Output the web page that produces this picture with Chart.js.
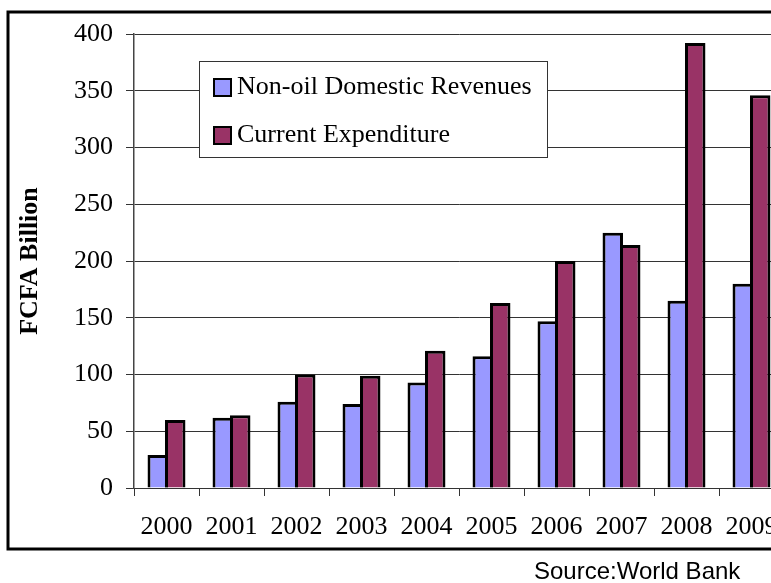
<!DOCTYPE html>
<html>
<head>
<meta charset="utf-8">
<script src="https://cdn.jsdelivr.net/npm/chart.js@4/dist/chart.umd.min.js"></script>
<style>
  html, body { margin: 0; padding: 0; background: #fff; overflow: hidden; }
  #wrap { width: 771px; height: 583px; overflow: hidden; position: relative; }
  canvas { display: block; }
</style>
</head>
<body>
<div id="wrap"><canvas id="c" width="800" height="583"></canvas></div>
<script>
// Categories and series (FCFA billion)
const years = ['2000', '2001', '2002', '2003', '2004', '2005', '2006', '2007', '2008', '2009'];
const nonOilRevenues = [29, 62, 76, 74, 93, 116, 147, 225, 165, 180];
const currentExpenditure = [60, 64, 100, 99, 121, 163, 200, 214, 392, 346];
const seriesNames = ['Non-oil Domestic Revenues', 'Current Expenditure'];
const yMin = 0, yMax = 400, yStep = 50;
const axisTitle = 'FCFA Billion';
const sourceNote = 'Source:World Bank';

const SERIF = "'Liberation Serif', 'Times New Roman', serif";
const SANS = "'Liberation Sans', Arial, sans-serif";
const BLUE = '#9999FF';
const MAROON = '#993366';

// Paired bars overlap by one outline so the shared edge reads as a single line
const BAR_BORDER = 3;
const CAT_PCT = 0.538;
const BAR_PCT = 1.171;

// White page with a heavy black frame around the chart
const framePlugin = {
  id: 'frame',
  beforeDraw(chart) {
    const ctx = chart.ctx;
    ctx.save();
    ctx.fillStyle = '#fff';
    ctx.fillRect(0, 0, chart.width, chart.height);
    ctx.strokeStyle = '#000';
    ctx.lineWidth = 3;
    ctx.strokeRect(8, 12, chart.width + 20, 537);
    ctx.restore();
  }
};

// Boxed legend sitting inside the plot area
const boxLegendPlugin = {
  id: 'boxLegend',
  afterDraw(chart) {
    const ctx = chart.ctx;
    ctx.save();
    ctx.fillStyle = '#fff';
    ctx.fillRect(199, 61, 349, 97);
    ctx.strokeStyle = '#333';
    ctx.lineWidth = 1;
    ctx.strokeRect(199.5, 61.5, 348, 96);
    ctx.font = '26px ' + SERIF;
    ctx.textBaseline = 'middle';
    ctx.textAlign = 'left';
    chart.data.datasets.forEach((ds, i) => {
      const cy = 87 + i * 48;
      ctx.fillStyle = ds.backgroundColor;
      ctx.fillRect(214, cy - 8, 17, 17);
      ctx.strokeStyle = '#000';
      ctx.lineWidth = 2;
      ctx.strokeRect(214, cy - 8, 17, 17);
      ctx.fillStyle = '#000';
      ctx.fillText(ds.label, 237, cy);
    });
    ctx.restore();
  }
};

// Source line under the frame
const sourcePlugin = {
  id: 'sourceNote',
  afterDraw(chart) {
    const ctx = chart.ctx;
    ctx.save();
    ctx.font = '24px ' + SANS;
    ctx.fillStyle = '#000';
    ctx.textAlign = 'left';
    ctx.textBaseline = 'alphabetic';
    ctx.fillText(sourceNote, 534, 579);
    ctx.restore();
  }
};

const chart = new Chart(document.getElementById('c'), {
  type: 'bar',
  data: {
    labels: years,
    datasets: [
      {
        label: seriesNames[0],
        data: nonOilRevenues,
        backgroundColor: BLUE,
        borderColor: '#000',
        borderWidth: BAR_BORDER,
        borderSkipped: 'start',
        categoryPercentage: CAT_PCT,
        barPercentage: BAR_PCT
      },
      {
        label: seriesNames[1],
        data: currentExpenditure,
        backgroundColor: MAROON,
        borderColor: '#000',
        borderWidth: BAR_BORDER,
        borderSkipped: 'start',
        categoryPercentage: CAT_PCT,
        barPercentage: BAR_PCT
      }
    ]
  },
  options: {
    responsive: false,
    animation: false,
    layout: { padding: { left: 10, top: 34, right: 16, bottom: 0 } },
    plugins: {
      legend: { display: false },
      tooltip: { enabled: false }
    },
    scales: {
      x: {
        offset: true,
        grid: {
          display: true,
          offset: true,
          drawOnChartArea: false,
          drawTicks: true,
          tickLength: 8,
          color: '#333',
          lineWidth: 1
        },
        border: { display: true, color: '#333', width: 1 },
        ticks: {
          color: '#000',
          font: { family: SERIF, size: 26 },
          padding: 16,
          maxRotation: 0,
          autoSkip: false
        },
        afterFit(scale) { scale.height = 95; }
      },
      y: {
        min: yMin,
        max: yMax,
        grid: {
          color: '#333',
          lineWidth: 1,
          tickLength: 8
        },
        border: { display: true, color: '#444', width: 1.5 },
        ticks: {
          stepSize: yStep,
          color: '#000',
          font: { family: SERIF, size: 26 },
          padding: 13
        },
        title: {
          display: true,
          text: axisTitle,
          color: '#000',
          font: { family: SERIF, size: 26, weight: 'bold' },
          padding: { top: 5, bottom: 0 }
        },
        afterFit(scale) { scale.width = 124; }
      }
    }
  },
  plugins: [framePlugin, boxLegendPlugin, sourcePlugin]
});
</script>
</body>
</html>
